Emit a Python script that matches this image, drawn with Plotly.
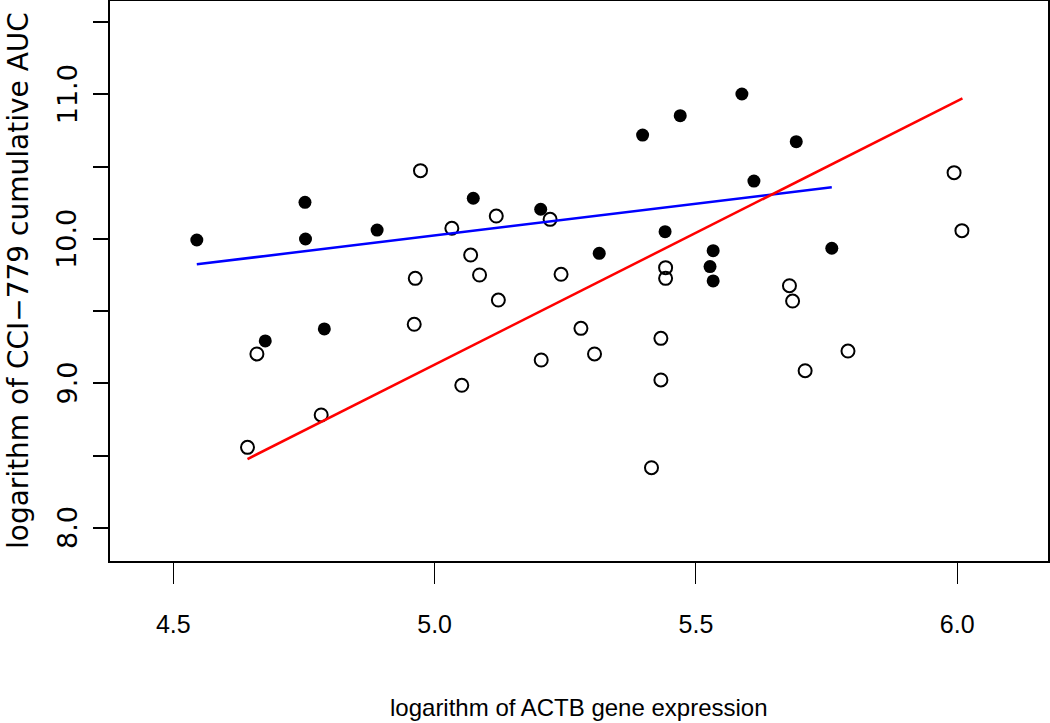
import plotly.graph_objects as go

# ---- data ----
filled_x = [4.545, 4.752, 4.753, 4.676, 4.789, 4.890, 5.074, 5.203, 5.315, 5.398,
            5.470, 5.441, 5.588, 5.692, 5.611, 5.533, 5.527, 5.533, 5.760]
filled_y = [9.992, 10.253, 9.999, 9.294, 9.377, 10.061, 10.281, 10.205, 9.900, 10.718,
            10.852, 10.050, 11.002, 10.672, 10.400, 9.918, 9.808, 9.709, 9.935]

open_x = [4.973, 5.033, 5.118, 5.221, 5.069, 4.963, 5.086, 5.242, 5.442, 5.442,
          5.122, 5.994, 6.009, 5.679, 5.685, 4.660, 4.642, 4.783, 4.961, 5.280,
          5.306, 5.204, 5.052, 5.433, 5.433, 5.415, 5.791, 5.709]
open_y = [10.472, 10.073, 10.158, 10.135, 9.888, 9.727, 9.750, 9.755, 9.801, 9.727,
          9.577, 10.458, 10.057, 9.676, 9.570, 9.204, 8.558, 8.782, 9.409, 9.381,
          9.204, 9.162, 8.987, 9.312, 9.024, 8.417, 9.224, 9.088]

blue_fit_x = [4.545, 5.760]
blue_fit_y = [9.824, 10.357]
red_fit_x = [4.642, 6.010]
red_fit_y = [8.477, 10.972]

x_tick_vals = [4.5, 5.0, 5.5, 6.0]
x_tick_text = ["4.5", "5.0", "5.5", "6.0"]
y_tick_vals = [8.0, 8.5, 9.0, 9.5, 10.0, 10.5, 11.0, 11.5]
y_tick_text = ["8.0", "", "9.0", "", "10.0", "", "11.0", ""]

x_title = "logarithm of ACTB gene expression"
y_title = "logarithm of CCI\u2212779 cumulative AUC"

XFONT = "Liberation Sans, Arial, sans-serif"
YFONT = "DejaVu Sans, Verdana, sans-serif"

fig = go.Figure()
fig.add_trace(go.Scatter(x=open_x, y=open_y, mode="markers",
                         marker=dict(symbol="circle-open", size=13, color="black",
                                     line=dict(width=2, color="black")),
                         showlegend=False, hoverinfo="skip"))
fig.add_trace(go.Scatter(x=filled_x, y=filled_y, mode="markers",
                         marker=dict(symbol="circle", size=13, color="black",
                                     line=dict(width=0)),
                         showlegend=False, hoverinfo="skip"))
fig.add_trace(go.Scatter(x=blue_fit_x, y=blue_fit_y, mode="lines",
                         line=dict(color="#0000ff", width=2.5),
                         showlegend=False, hoverinfo="skip"))
fig.add_trace(go.Scatter(x=red_fit_x, y=red_fit_y, mode="lines",
                         line=dict(color="#ff0000", width=2.5),
                         showlegend=False, hoverinfo="skip"))

# y tick labels (rotated, parallel to the axis) placed at the axis' own tick values
y_label_annotations = [
    dict(text=t, xref="paper", yref="y", x=0, y=v, xanchor="center",
         yanchor="middle", xshift=-43, textangle=-90, showarrow=False,
         font=dict(family=YFONT, size=27, color="black"))
    for v, t in zip(y_tick_vals, y_tick_text) if t
]

fig.update_layout(
    width=1050, height=723,
    margin=dict(l=110, r=2, t=1, b=162, autoexpand=False),
    paper_bgcolor="white", plot_bgcolor="white",
    showlegend=False,
    xaxis=dict(range=[4.3789, 6.1737], tickmode="array", tickvals=x_tick_vals,
               ticktext=x_tick_text, ticks="outside", ticklen=21, tickwidth=1.2,
               tickcolor="black", showgrid=False, zeroline=False, automargin=False,
               showline=True, linecolor="black", linewidth=2, mirror=True,
               tickfont=dict(family=XFONT, size=25, color="black"),
               ticklabelstandoff=19),
    yaxis=dict(range=[7.7717, 11.6454], tickmode="array", tickvals=y_tick_vals,
               ticks="outside", ticklen=15, tickwidth=1.5, showticklabels=False,
               tickcolor="black", showgrid=False, zeroline=False, automargin=False,
               showline=True, linecolor="black", linewidth=2, mirror=True),
    annotations=y_label_annotations + [
        dict(text=x_title, xref="paper", yref="paper", x=0.5, y=0,
             xanchor="center", yanchor="middle", yshift=-146, showarrow=False,
             font=dict(family=XFONT, size=24, color="black")),
        dict(text=y_title, xref="paper", yref="paper", x=0, y=0.5,
             xanchor="center", yanchor="middle", xshift=-92, textangle=-90,
             showarrow=False,
             font=dict(family=YFONT, size=28, color="black")),
    ],
)

fig.write_html(
    "out.html",
    config={"displayModeBar": False},
    post_script="document.body.style.margin='0';"
                "document.documentElement.style.overflow='hidden';",
)
